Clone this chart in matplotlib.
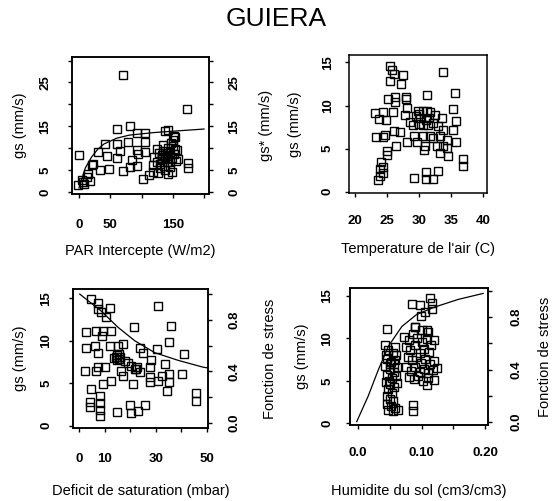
import matplotlib
matplotlib.use("Agg")
import matplotlib.pyplot as plt

plt.rcParams['font.family'] = ['Liberation Sans', 'DejaVu Sans']

# ---------------- data ----------------
# Panel 1: PAR intercepte vs gs
par_x = [70, 172, 0, 60, 81, 92, 105, 137, 142, 153, 41, 60, 65, 78, 105, 30, 44, 60, 92, 95,
         105, 22, 20, 33, 48, 70, 81, 92, 84, 102, 112, 118, 142, 174, 174, 158, 153, -1, 6,
         8, 17, 4, 12, 14,
         120, 125, 128, 130, 132, 133, 135, 136, 138, 140, 140, 142, 143, 145, 146, 148, 150,
         152, 155, 157, 130, 138, 145, 124, 118, 127, 148, 135, 150, 152, 147, 137, 141, 133]
par_y = [26.6, 19.0, 8.4, 14.3, 15.1, 13.6, 13.4, 13.9, 14.1, 12.6, 11.1, 11.1, 9.3, 11.5, 11.5,
         9.2, 8.3, 7.7, 9.6, 8.8, 9.2, 6.5, 6.1, 5.0, 5.2, 4.9, 5.8, 6.0, 7.3, 3.0, 3.9, 4.6,
         4.2, 6.7, 5.5, 7.5, 9.9, 1.6, 2.3, 2.0, 2.5, 2.7, 3.5, 4.2,
         8.0, 7.0, 9.0, 6.5, 8.5, 7.5, 9.5, 6.0, 8.0, 7.0, 9.0, 10.0, 8.3, 6.8, 9.2, 7.8,
         10.5, 8.8, 7.2, 9.6, 5.5, 5.0, 5.8, 9.8, 6.2, 4.5, 4.7, 10.8, 12.0, 12.8, 11.2,
         8.6, 8.2, 7.9]
par_curve_x = [0, 10, 20, 30, 40, 60, 80, 100, 120, 140, 160, 180, 200]
par_curve_y = [1.0, 5.5, 8.0, 9.8, 11.0, 12.3, 13.0, 13.3, 13.6, 13.8, 14.0, 14.2, 14.4]

# Panel 2: temperature de l'air vs gs
temp_x = [25.4, 25.7, 27.5, 26.0, 25.5, 27.2, 33.7, 35.5, 25.2, 26.2, 26.2, 28.0, 28.0, 31.2,
          28.1, 29.8, 30.6, 31.2, 31.7, 35.2, 35.7, 33.5, 23.1, 24.3, 23.7, 24.9, 25.9, 27.8,
          28.6, 29.1, 29.9, 30.6, 31.4, 32.2, 32.9, 33.7, 35.2, 26.0, 27.0, 23.3, 24.4, 24.7,
          29.2, 30.6, 31.7, 32.2, 33.2, 34.3, 35.8, 28.1, 29.6, 30.9, 32.7, 33.7, 34.3, 34.5,
          33.2, 26.4, 25.0, 25.0, 30.8, 24.1, 36.9, 36.8, 24.4, 23.9, 24.4, 23.9, 23.6, 29.2,
          31.1, 31.1, 32.1, 32.9, 30.2, 31.0, 29.5, 32.5, 30.0, 31.5]
temp_y = [14.6, 14.1, 13.6, 13.7, 12.8, 12.5, 13.9, 11.5, 10.8, 11.0, 10.4, 11.0, 10.8, 11.2,
          9.7, 9.4, 9.4, 9.4, 9.3, 9.6, 8.2, 8.6, 9.1, 9.3, 8.4, 8.3, 9.2, 8.9, 8.1, 7.7, 7.9,
          7.7, 7.7, 8.0, 7.6, 7.2, 7.2, 7.0, 6.9, 6.3, 6.3, 6.6, 6.4, 6.4, 6.4, 6.2, 6.4, 6.0,
          5.8, 5.7, 5.7, 5.3, 5.3, 5.3, 5.1, 4.1, 4.5, 5.3, 4.7, 4.2, 4.8, 3.4, 3.8, 3.0, 2.8,
          2.6, 2.1, 1.8, 1.3, 1.6, 2.3, 1.5, 1.5, 2.4, 8.5, 8.3, 8.8, 8.9, 9.0, 8.6]

# Panel 3: deficit de saturation vs gs
dsat_x = [4.8, 7.4, 7.4, 12.0, 10.7, 8.7, 30.9, 35.8, 21.4, 35.3, 40.9, 30.5, 2.9, 2.9, 6.8,
          9.4, 12.6, 9.0, 6.4, 7.4, 12.0, 15.2, 17.2, 23.7, 25.0, 28.2, 27.6, 33.7, 2.2, 6.6,
          7.4, 10.0, 16.5, 17.2, 22.1, 23.7, 27.7, 27.7, 30.9, 32.5, 35.0, 35.0, 34.4, 40.1,
          12.6, 21.1, 9.4, 4.8, 45.8, 45.8, 4.4, 4.4, 8.3, 8.3, 8.3, 8.3, 15.0, 19.8, 20.3,
          23.0, 25.7, 14.5, 15.0, 15.5, 16.0, 14.8, 15.8, 22.0, 22.6, 19.0, 18.0, 13.5, 20.5]
dsat_y = [14.9, 14.4, 13.7, 13.9, 12.8, 13.4, 14.1, 11.8, 11.6, 9.9, 8.4, 9.0, 11.0, 9.2, 11.2,
          11.2, 11.2, 10.6, 9.4, 8.6, 9.4, 9.4, 9.6, 9.2, 8.6, 7.7, 6.9, 7.3, 6.4, 6.4, 6.9,
          6.9, 6.4, 5.9, 6.7, 6.3, 5.7, 5.1, 5.3, 5.9, 6.1, 5.1, 4.1, 6.1, 5.3, 4.9, 4.9, 4.3,
          3.9, 2.9, 2.8, 2.2, 3.5, 2.7, 1.9, 1.2, 1.6, 2.4, 1.5, 1.7, 2.4, 8.1, 8.3, 7.9, 8.1,
          7.7, 8.4, 6.7, 6.9, 7.4, 7.6, 8.0, 7.0]
dsat_curve_x = [0.3, 8.7, 15.2, 21.8, 29.6, 38.7, 48.4, 50.4]
dsat_curve_y = [15.5, 13.5, 11.6, 10.0, 8.6, 7.7, 6.9, 6.8]

# Panel 4: humidite du sol vs gs
hum_x = [0.085, 0.098, 0.113, 0.117, 0.117, 0.106, 0.099, 0.045, 0.090, 0.108, 0.110,
         0.042, 0.048, 0.055, 0.060, 0.045, 0.052, 0.058, 0.043, 0.050, 0.056, 0.062, 0.046,
         0.053, 0.060, 0.044, 0.050, 0.057, 0.047, 0.054, 0.045, 0.050, 0.055, 0.046, 0.052,
         0.058, 0.048, 0.055, 0.063, 0.044, 0.058, 0.050, 0.049, 0.061, 0.056,
         0.073, 0.080, 0.087, 0.093, 0.100, 0.108, 0.115, 0.120, 0.075, 0.082, 0.090, 0.097,
         0.104, 0.112, 0.078, 0.085, 0.092, 0.099, 0.106, 0.113, 0.120, 0.076, 0.083, 0.090,
         0.097, 0.104, 0.111, 0.118, 0.125, 0.080, 0.088, 0.095, 0.102, 0.110, 0.120, 0.108,
         0.090, 0.100, 0.087, 0.087]
hum_y = [14.1, 13.9, 14.8, 14.2, 13.5, 13.1, 12.7, 11.1, 11.4, 11.0, 10.7,
         9.2, 8.6, 8.3, 8.0, 7.6, 7.2, 7.5, 6.8, 6.4, 6.0, 6.6, 5.7, 5.3, 5.6, 4.9, 4.6, 4.3,
         4.0, 3.6, 3.2, 2.9, 2.6, 2.3, 2.0, 1.8, 1.6, 1.4, 1.6, 8.0, 9.0, 7.0, 5.0, 4.8, 7.0,
         10.2, 9.8, 10.5, 10.0, 9.6, 9.9, 9.2, 9.8, 9.0, 8.6, 9.2, 8.3, 8.8, 8.4, 7.8, 7.4,
         7.8, 7.1, 7.6, 7.0, 7.3, 6.6, 6.2, 6.6, 6.0, 6.4, 5.9, 6.3, 6.5, 5.4, 5.2, 5.6, 5.0,
         5.3, 5.1, 4.5, 11.3, 11.0, 2.2, 1.4]
hum_curve_x = [-0.002, 0.016, 0.032, 0.048, 0.069, 0.092, 0.121, 0.158, 0.197]
hum_curve_y = [0.2, 3.2, 6.3, 9.1, 11.4, 12.8, 13.7, 14.6, 15.3]

# ---------------- figure ----------------
W, H = 554, 501
fig = plt.figure(figsize=(W / 100, H / 100), dpi=100)


def add_axes(l, t, r, b):
    return fig.add_axes([l / W, 1 - b / H, (r - l) / W, (b - t) / H])


TICK_FS = 9.5
LAB_FS = 10.5
MK = dict(marker='s', ms=6.2, mfc='none', mec='black', mew=1.0, ls='none')


def style(ax, left=True, right=False, bottom=True):
    for s in ax.spines.values():
        s.set_linewidth(1.1)
    ax.tick_params(direction='out', length=3, width=1.0, labelsize=TICK_FS,
                   top=False, right=right, left=left, bottom=bottom)
    for lab in ax.get_xticklabels() + ax.get_yticklabels():
        lab.set_fontweight('bold')


def ylabels_rot(ax):
    for lab in ax.get_yticklabels():
        lab.set_rotation(90)
        lab.set_va('center')


# Panel 1
ax1 = add_axes(72, 57, 209, 194)
ax1.plot(par_x, par_y, **MK)
ax1.plot(par_curve_x, par_curve_y, color='black', lw=0.9)
ax1.set_xlim(-11.2, 208)
ax1.set_ylim(-0.39, 30.8)
ax1.set_xticks([0, 50, 100, 150, 200])
ax1.set_xticklabels(['0', '50', '', '150', ''])
ax1.set_yticks([0, 5, 10, 15, 20, 25, 30])
ax1.set_yticklabels(['0', '5', '', '15', '', '25', ''])
style(ax1)
ax1.tick_params(axis='x', pad=15)
ax1.tick_params(axis='y', pad=12)
ylabels_rot(ax1)
ax1b = ax1.twinx()
ax1b.set_ylim(ax1.get_ylim())
ax1b.set_yticks([0, 5, 10, 15, 20, 25, 30])
ax1b.set_yticklabels(['0', '5', '', '15', '', '25', ''])
style(ax1b, left=False, right=True, bottom=False)
ax1b.tick_params(axis='y', pad=11)
ylabels_rot(ax1b)
ax1.set_xlabel('PAR Intercepte (W/m2)', fontsize=LAB_FS)
ax1.set_ylabel('gs (mm/s)', fontsize=LAB_FS)
ax1b.set_ylabel('gs* (mm/s)', fontsize=LAB_FS)

# Panel 2
ax2 = add_axes(349, 55, 487, 193)
ax2.plot(temp_x, temp_y, **MK)
ax2.set_xlim(19.07, 40.56)
ax2.set_ylim(-0.17, 15.87)
ax2.set_xticks([20, 25, 30, 35, 40])
ax2.set_yticks([0, 5, 10, 15])
style(ax2)
ax2.tick_params(axis='x', pad=13)
ax2.tick_params(axis='y', pad=8)
ylabels_rot(ax2)
ax2.set_xlabel("Temperature de l'air (C)", fontsize=LAB_FS)
ax2.set_ylabel('gs (mm/s)', fontsize=LAB_FS)

# Panel 3
ax3 = add_axes(73, 289, 208, 428)
ax3.plot(dsat_x, dsat_y, **MK)
ax3.plot(dsat_curve_x, dsat_curve_y, color='black', lw=0.9)
ax3.set_xlim(-2.34, 50.4)
ax3.set_ylim(-0.27, 16.1)
ax3.set_xticks([0, 10, 20, 30, 40, 50])
ax3.set_xticklabels(['0', '10', '', '30', '', '50'])
ax3.set_yticks([0, 5, 10, 15])
style(ax3)
ax3.tick_params(axis='x', pad=15)
ax3.tick_params(axis='y', pad=12)
ylabels_rot(ax3)
ax3b = ax3.twinx()
ax3b.set_ylim(-0.039, 1.039)
ax3b.set_yticks([0, 0.2, 0.4, 0.6, 0.8, 1.0])
ax3b.set_yticklabels(['0.0', '', '0.4', '', '0.8', ''])
style(ax3b, left=False, right=True, bottom=False)
ax3b.tick_params(axis='y', pad=12)
ylabels_rot(ax3b)
ax3.set_xlabel('Deficit de saturation (mbar)', fontsize=LAB_FS)
ax3.set_ylabel('gs (mm/s)', fontsize=LAB_FS)
ax3b.set_ylabel('Fonction de stress', fontsize=LAB_FS)

# Panel 4
ax4 = add_axes(350, 288, 488, 425)
ax4.plot(hum_x, hum_y, **MK)
ax4.plot(hum_curve_x, hum_curve_y, color='black', lw=0.9)
ax4.set_xlim(-0.0126, 0.2047)
ax4.set_ylim(-0.2, 15.94)
ax4.set_xticks([0, 0.05, 0.10, 0.15, 0.20])
ax4.set_xticklabels(['0.0', '', '0.10', '', '0.20'])
ax4.set_yticks([0, 5, 10, 15])
style(ax4)
ax4.tick_params(axis='x', pad=13)
ax4.tick_params(axis='y', pad=9)
ylabels_rot(ax4)
ax4b = ax4.twinx()
ax4b.set_ylim(-0.023, 1.023)
ax4b.set_yticks([0, 0.2, 0.4, 0.6, 0.8, 1.0])
ax4b.set_yticklabels(['0.0', '', '0.4', '', '0.8', ''])
style(ax4b, left=False, right=True, bottom=False)
ax4b.tick_params(axis='y', pad=13)
ylabels_rot(ax4b)
ax4.set_xlabel('Humidite du sol (cm3/cm3)', fontsize=LAB_FS)
ax4.set_ylabel('gs (mm/s)', fontsize=LAB_FS)
ax4b.set_ylabel('Fonction de stress', fontsize=LAB_FS)


def place_labels(ax, l, t, r, b, xlab_y, ylab_x, axr=None, ylab_rx=None):
    w, h = r - l, b - t
    ax.xaxis.set_label_coords(0.5, -(xlab_y - b) / h)
    ax.xaxis.label.set_va('center')
    ax.yaxis.set_label_coords(-(l - ylab_x) / w, 0.5)
    ax.yaxis.label.set_ha('center')
    ax.yaxis.label.set_va('center')
    if axr is not None:
        axr.yaxis.set_label_coords(1 + (ylab_rx - r) / w, 0.5)
        axr.yaxis.label.set_ha('center')
        axr.yaxis.label.set_va('center')
        axr.yaxis.label.set_rotation(90)


place_labels(ax1, 72, 57, 209, 194, 251, 20, ax1b, 266)
place_labels(ax2, 349, 55, 487, 193, 249, 295)
place_labels(ax3, 73, 289, 208, 428, 491, 20, ax3b, 270)
place_labels(ax4, 350, 288, 488, 425, 491, 302, ax4b, 545)

fig.text(276.5 / W, 1 - 19 / H, 'GUIERA', ha='center', va='center', fontsize=19)

fig.savefig('out.png', dpi=100)
